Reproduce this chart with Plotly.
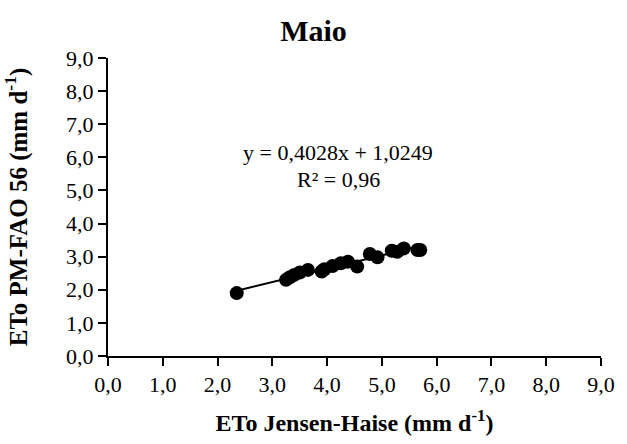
import plotly.graph_objects as go

# Data (May)
eto_jensen_haise = [2.35, 3.25, 3.32, 3.40, 3.50, 3.65, 3.90, 3.95, 4.10, 4.25,
                    4.38, 4.55, 4.78, 4.92, 5.18, 5.28, 5.40, 5.65, 5.70]
eto_pm_fao56 = [1.90, 2.30, 2.38, 2.45, 2.52, 2.60, 2.55, 2.62, 2.72, 2.80,
                2.85, 2.70, 3.08, 2.98, 3.18, 3.15, 3.25, 3.20, 3.20]
slope = 0.4028
intercept = 1.0249
r2_text = "R² = 0,96"
eq_text = "y = 0,4028x + 1,0249"
tick_vals = [0, 1, 2, 3, 4, 5, 6, 7, 8, 9]

x_line = [min(eto_jensen_haise), max(eto_jensen_haise)]
y_line = [slope * v + intercept for v in x_line]

FONT = "Liberation Serif"

fig = go.Figure()
fig.add_trace(go.Scatter(x=x_line, y=y_line, mode="lines",
                         line=dict(color="black", width=2), showlegend=False,
                         hoverinfo="skip"))
fig.add_trace(go.Scatter(x=eto_jensen_haise, y=eto_pm_fao56, mode="markers",
                         marker=dict(color="black", size=14), showlegend=False))

axis_common = dict(range=[0, 9], tickvals=tick_vals, tickformat=".1f",
                   showgrid=False, zeroline=False, showline=True,
                   linecolor="black", linewidth=2, ticks="outside",
                   ticklen=8, tickwidth=2, tickcolor="black",
                   tickfont=dict(family=FONT, size=22, color="black"))

fig.update_layout(
    width=627, height=444,
    margin=dict(l=108, r=20, t=58, b=87),
    paper_bgcolor="white", plot_bgcolor="white",
    separators=",.",
    title=dict(text="<b>Maio</b>", x=0.5, xanchor="center", y=0.932, yanchor="middle",
               font=dict(family=FONT, size=30, color="black")),
    xaxis=dict(**axis_common,
               title=dict(text="<b>ETo Jensen-Haise (mm d<sup>-1</sup>)</b>",
                          font=dict(family=FONT, size=24, color="black"),
                          standoff=18)),
    yaxis=dict(**axis_common,
               title=dict(text="<b>ETo PM-FAO 56 (mm d<sup>-1</sup>)</b>",
                          font=dict(family=FONT, size=25, color="black"),
                          standoff=34)),
    annotations=[
        dict(text=eq_text, x=4.2, y=6.16, xref="x", yref="y",
             showarrow=False, font=dict(family=FONT, size=22, color="black")),
        dict(text=r2_text, x=4.2, y=5.32, xref="x", yref="y",
             showarrow=False, font=dict(family=FONT, size=22, color="black")),
    ],
)

fig.write_html("out.html")
